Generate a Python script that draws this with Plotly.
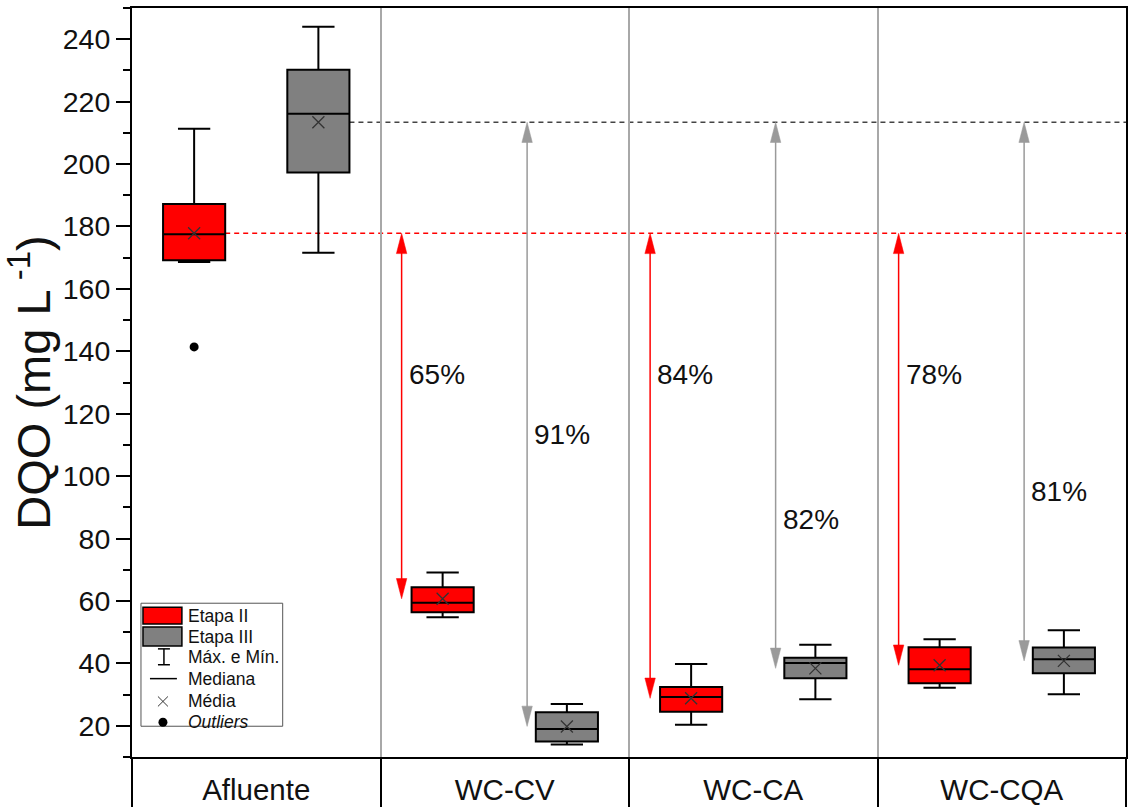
import plotly.graph_objects as go

# Sampling points and stages
categories = ["Afluente", "WC-CV", "WC-CA", "WC-CQA"]
stages = ["Etapa II", "Etapa III"]

# DQO statistics per stage (mg L-1), one value per sampling point
etapa2_upper = [211.3, 69.1, 39.8, 47.7]
etapa2_q3 = [187.2, 64.4, 32.4, 45.2]
etapa2_median = [177.5, 59.4, 29.2, 38.1]
etapa2_q1 = [169.2, 56.4, 24.5, 33.6]
etapa2_lower = [168.6, 54.8, 20.3, 32.2]
etapa2_mean = [177.8, 60.7, 28.8, 39.4]

etapa3_upper = [244.0, 27.0, 46.0, 50.6]
etapa3_q3 = [230.2, 24.3, 41.8, 45.1]
etapa3_median = [216.1, 19.0, 40.1, 41.3]
etapa3_q1 = [197.3, 15.0, 35.2, 36.8]
etapa3_lower = [171.6, 14.0, 28.5, 30.1]
etapa3_mean = [213.4, 19.8, 38.4, 40.8]

# Outliers (category index, value)
outlier_cat = [0]
outlier_val = [141.4]

# Removal efficiency labels for each treated effluent
removal_etapa2 = ["65%", "84%", "78%"]
removal_etapa3 = ["91%", "82%", "81%"]
label_y_etapa2 = [132.5, 132.5, 132.5]
label_y_etapa3 = [113.3, 86.0, 95.0]

y_ticks = list(range(20, 241, 20))

RED = "#FF0000"
GRAY = "#808080"
ARROW_GRAY = "#9A9A9A"
FONT = "Liberation Sans, Arial, sans-serif"

BOX_W = 0.25
OFF = [0.25, 0.75]

fig = go.Figure()

stats = [
    (etapa2_q1, etapa2_median, etapa2_q3, etapa2_lower, etapa2_upper, etapa2_mean, RED),
    (etapa3_q1, etapa3_median, etapa3_q3, etapa3_lower, etapa3_upper, etapa3_mean, GRAY),
]

for k, (q1, med, q3, lo, up, mean, color) in enumerate(stats):
    xs = [i + OFF[k] for i in range(len(categories))]
    fig.add_trace(go.Box(
        name=stages[k], x=xs, q1=q1, median=med, q3=q3,
        lowerfence=lo, upperfence=up,
        width=BOX_W, whiskerwidth=0.52,
        fillcolor=color, line=dict(color="black", width=2),
        boxpoints=False, showlegend=False,
    ))
    fig.add_trace(go.Scatter(
        x=xs, y=mean, mode="markers", showlegend=False,
        marker=dict(symbol="x-thin", size=12, line=dict(color="#333333", width=1.3)),
    ))

fig.add_trace(go.Scatter(
    x=[c + OFF[0] for c in outlier_cat], y=outlier_val, mode="markers",
    showlegend=False, marker=dict(symbol="circle", size=9, color="black"),
))

shapes = []

# Reference lines at the influent mean of each stage
for k, (mean, color) in enumerate([(etapa2_mean, RED), (etapa3_mean, "#444444")]):
    shapes.append(dict(type="line", xref="x", yref="y",
                       x0=OFF[k] + BOX_W / 2, x1=4, y0=mean[0], y1=mean[0],
                       line=dict(color=color, width=1.4, dash="5px,4px"), layer="below"))

# Double-headed arrows from influent mean to effluent mean
HEAD_LEN = 6.5
HEAD_HW = 0.021
ARROW_OFF = [0.085, 0.59]


def arrow(x, y_top, y_bot, color):
    out = [dict(type="line", xref="x", yref="y", x0=x, x1=x,
                y0=y_top - HEAD_LEN * 0.6, y1=y_bot + HEAD_LEN * 0.6,
                line=dict(color=color, width=1.5))]
    out.append(dict(type="path", xref="x", yref="y",
                    path=f"M {x} {y_top} L {x - HEAD_HW} {y_top - HEAD_LEN} "
                         f"L {x + HEAD_HW} {y_top - HEAD_LEN} Z",
                    fillcolor=color, line=dict(color=color, width=0.5)))
    out.append(dict(type="path", xref="x", yref="y",
                    path=f"M {x} {y_bot} L {x - HEAD_HW} {y_bot + HEAD_LEN} "
                         f"L {x + HEAD_HW} {y_bot + HEAD_LEN} Z",
                    fillcolor=color, line=dict(color=color, width=0.5)))
    return out


annotations = []
for j in range(1, len(categories)):
    for k, (mean, color, labels, ly) in enumerate([
            (etapa2_mean, RED, removal_etapa2, label_y_etapa2),
            (etapa3_mean, ARROW_GRAY, removal_etapa3, label_y_etapa3)]):
        ax = j + ARROW_OFF[k]
        shapes += arrow(ax, mean[0], mean[j], color)
        annotations.append(dict(x=ax, y=ly[j - 1], xref="x", yref="y",
                                text=labels[j - 1], showarrow=False,
                                xanchor="left", yanchor="middle", xshift=5,
                                font=dict(family=FONT, size=28, color="#111111")))

# Legend drawn in pixel-like paper coordinates
PL, PT, PW, PH = 132, 8, 996, 755


def px(v):
    return (v - PL) / PW


def py(v):
    return (PT + PH - v) / PH


shapes.append(dict(type="rect", xref="paper", yref="paper",
                   x0=px(141), x1=px(283), y0=py(732), y1=py(608),
                   line=dict(color="#555555", width=1), fillcolor="white"))
shapes.append(dict(type="rect", xref="paper", yref="paper",
                   x0=px(143), x1=px(182), y0=py(629), y1=py(612),
                   line=dict(color="black", width=1.5), fillcolor=RED))
shapes.append(dict(type="rect", xref="paper", yref="paper",
                   x0=px(143), x1=px(182), y0=py(651), y1=py(632),
                   line=dict(color="black", width=1.5), fillcolor=GRAY))
# whisker glyph
for seg in [((164, 654), (164, 670)), ((158, 654), (170, 654)), ((158, 670), (170, 670))]:
    shapes.append(dict(type="line", xref="paper", yref="paper",
                       x0=px(seg[0][0]), y0=py(seg[0][1]), x1=px(seg[1][0]), y1=py(seg[1][1]),
                       line=dict(color="black", width=1.5)))
# median glyph
shapes.append(dict(type="line", xref="paper", yref="paper",
                   x0=px(150), x1=px(177), y0=py(684), y1=py(684),
                   line=dict(color="black", width=1.5)))
# mean glyph
for (a, b) in [((158, 702), (168, 712)), ((158, 712), (168, 702))]:
    shapes.append(dict(type="line", xref="paper", yref="paper",
                       x0=px(a[0]), y0=py(a[1]), x1=px(b[0]), y1=py(b[1]),
                       line=dict(color="#333333", width=1)))
# outlier glyph
shapes.append(dict(type="circle", xref="paper", yref="paper",
                   x0=px(158.5), x1=px(167.5), y0=py(732.5), y1=py(723.5),
                   line=dict(color="black", width=0), fillcolor="black"))

legend_items = ["Etapa II", "Etapa III", "Máx. e Mín.", "Mediana", "Média", "<i>Outliers</i>"]
legend_rows = [621, 642, 662, 684, 707, 728]
for txt, row in zip(legend_items, legend_rows):
    annotations.append(dict(x=px(186), y=py(row), xref="paper", yref="paper",
                            text=txt, showarrow=False, xanchor="left", yanchor="middle",
                            font=dict(family=FONT, size=17.5, color="#111111")))

fig.update_layout(
    width=1129, height=807,
    margin=dict(l=PL, r=1, t=PT, b=44),
    paper_bgcolor="white", plot_bgcolor="white",
    boxmode="overlay",
    shapes=shapes, annotations=annotations,
    showlegend=False,
    font=dict(family=FONT, color="#111111"),
    xaxis=dict(
        range=[0, 4], showline=True, linecolor="black", linewidth=2, mirror=True,
        tickmode="array", tickvals=[i + 0.5 for i in range(len(categories))],
        ticktext=categories, ticks="outside", ticklen=6, tickcolor="rgba(0,0,0,0)",
        tickfont=dict(family=FONT, size=29.5, color="#111111"),
        showgrid=False, zeroline=False,
        minor=dict(tickmode="array", tickvals=[0, 1, 2, 3, 4], ticks="outside",
                   ticklen=50, tickwidth=2, tickcolor="black",
                   showgrid=True, gridcolor="#A8A8A8", gridwidth=1.5),
    ),
    yaxis=dict(
        range=[10, 250], showline=True, linecolor="black", linewidth=2, mirror=True,
        tickmode="array", tickvals=y_ticks, ticks="outside", ticklen=14, tickwidth=2,
        tickcolor="black", tickfont=dict(family=FONT, size=28.5, color="#111111"),
        minor=dict(tickmode="linear", tick0=10, dtick=10, ticks="outside",
                   ticklen=7, tickwidth=2, tickcolor="black"),
        showgrid=False, zeroline=False,
        title=dict(text="DQO (mg L<sup> -1</sup>)", standoff=8,
                   font=dict(family=FONT, size=47, color="#111111")),
    ),
)

fig.write_html("out.html")
